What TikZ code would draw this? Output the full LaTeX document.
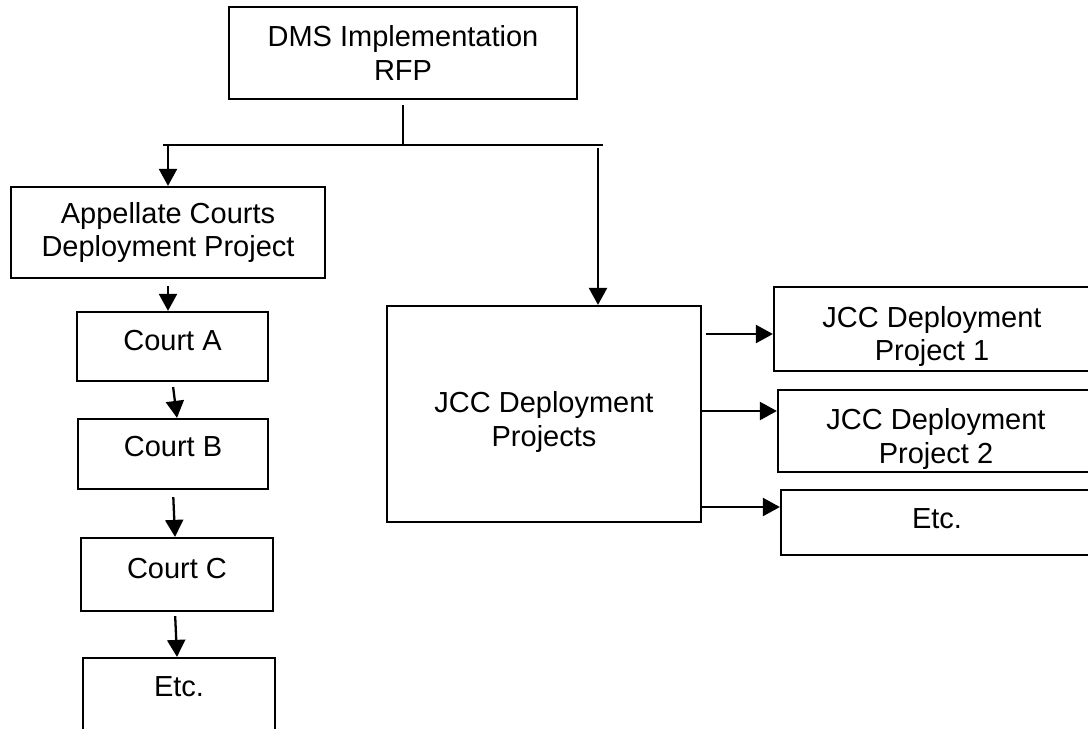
\documentclass[tikz,border=0pt]{standalone}
\usepackage{fontspec}
\setmainfont{Liberation Sans}
\usetikzlibrary{arrows.meta}

\begin{document}
\begin{tikzpicture}[x=0.02cm,y=-0.02cm,
    font=\fontsize{16.5}{18.8}\selectfont,
    box/.style={draw,line width=1.3pt,rectangle,align=center,inner sep=0pt},
    wire/.style={line width=1.3pt},
    arr/.style={wire,-{Triangle[length=0.34cm,width=0.36cm]}}]

    \useasboundingbox (0,0) rectangle (1088,728);

    % top of the tree
    \node[box,minimum width=6.96cm,minimum height=1.84cm] (rfp) at (403,53) {DMS Implementation\\RFP};
    \coordinate (barL) at (163,145);
    \coordinate (barR) at (603,145);
    \coordinate (drop) at (598,148);

    % appellate side
    \node[box,minimum width=6.28cm,minimum height=1.82cm] (appellate) at (168,232.5) {Appellate Courts\\Deployment Project};
    \node[box,minimum width=3.82cm,minimum height=1.38cm] (courtA) at (172.5,346.5) {Court A\rule[-0.26cm]{0pt}{0pt}};
    \node[box,minimum width=3.8cm,minimum height=1.4cm] (courtB) at (173,454) {Court B\rule[-0.3cm]{0pt}{0pt}};
    \node[box,minimum width=3.84cm,minimum height=1.46cm] (courtC) at (177,574.5) {Court C\rule[-0.26cm]{0pt}{0pt}};
    \node[box,minimum width=3.84cm,minimum height=1.48cm] (etcA) at (179,695) {Etc.\rule[-0.32cm]{0pt}{0pt}};

    % JCC side
    \node[box,minimum width=6.28cm,minimum height=4.32cm] (jcc) at (544,414) {\rule{0pt}{0.74cm}JCC Deployment\\Projects};
    \node[box,minimum width=6.32cm,minimum height=1.68cm] (proj1) at (932,329) {\rule{0pt}{0.72cm}JCC Deployment\\Project 1};
    \node[box,minimum width=6.32cm,minimum height=1.64cm] (proj2) at (936,431) {\rule{0pt}{0.74cm}JCC Deployment\\Project 2};
    \node[box,minimum width=6.24cm,minimum height=1.3cm] (etcB) at (937,522.5) {Etc.\rule[-0.14cm]{0pt}{0pt}};

    \draw[wire,shorten <=0.1cm] (rfp.south) -- (rfp.south |- barL);
    \draw[wire] (barL) -- (barR);
    \draw[arr] (appellate.north |- barL) -- (appellate.north);
    \draw[arr] (drop) -- (drop |- jcc.north);

    \draw[arr,shorten <=0.14cm] (appellate.south) -- (appellate.south |- courtA.north);
    \draw[arr,shorten <=0.1cm] (courtA.south) -- ([xshift=0.08cm]courtB.north);
    \draw[arr,shorten <=0.14cm] (courtB.south) -- ([xshift=-0.04cm]courtC.north);
    \draw[arr,shorten <=0.08cm] ([xshift=-0.04cm]courtC.south) -- ([xshift=-0.04cm]etcA.north);

    \coordinate (out1) at ([yshift=-0.1cm]proj1.west);
    \coordinate (out2) at ([yshift=0.4cm]proj2.west);
    \coordinate (out3) at ([yshift=0.31cm]etcB.west);
    \draw[arr,shorten <=0.08cm] (out1 -| jcc.east) -- (out1);
    \draw[arr] (out2 -| jcc.east) -- (out2);
    \draw[arr] (out3 -| jcc.east) -- (out3);

\end{tikzpicture}
\end{document}
